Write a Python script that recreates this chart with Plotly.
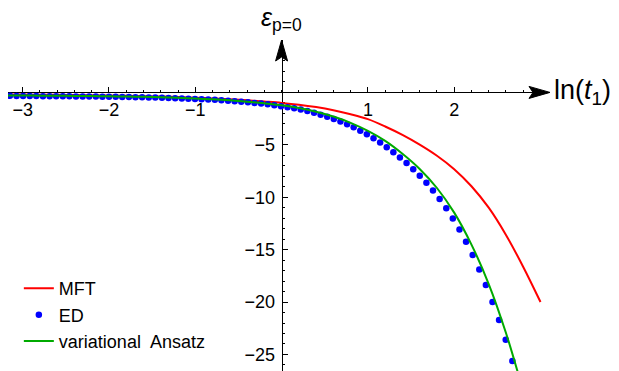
import plotly.graph_objects as go

# ---------------- data ----------------
mft_lnt = [-3.2, -3.0, -2.8, -2.6, -2.4, -2.2, -2.0, -1.8, -1.6, -1.4, -1.2, -1.0,
           -0.8, -0.6, -0.4, -0.2, 0.0, 0.2, 0.4, 0.6, 0.8, 1.0, 1.2, 1.4, 1.6,
           1.8, 2.0, 2.2, 2.4, 2.6, 2.8, 3.0]
mft_eps = [-0.20, -0.21, -0.22, -0.23, -0.25, -0.27, -0.30, -0.33, -0.36, -0.40,
           -0.45, -0.50, -0.57, -0.65, -0.75, -0.87, -1.00, -1.17, -1.40, -1.70,
           -2.08, -2.55, -3.25, -4.05, -4.98, -6.04, -7.32, -8.95, -11.00, -13.60,
           -16.65, -20.00]

ed_lnt = [-3.148, -3.071, -2.995, -2.918, -2.842, -2.765, -2.688, -2.612, -2.535,
          -2.459, -2.382, -2.305, -2.229, -2.152, -2.076, -1.999, -1.922, -1.846,
          -1.769, -1.693, -1.616, -1.539, -1.463, -1.386, -1.310, -1.233, -1.156,
          -1.080, -1.003, -0.927, -0.850, -0.773, -0.697, -0.620, -0.544, -0.467,
          -0.390, -0.314, -0.237, -0.161, -0.084, -0.007, 0.069, 0.146, 0.222,
          0.299, 0.376, 0.452, 0.529, 0.605, 0.682, 0.759, 0.835, 0.912, 0.988,
          1.065, 1.142, 1.218, 1.295, 1.371, 1.448, 1.525, 1.601, 1.678, 1.754,
          1.831, 1.908, 1.984, 2.061, 2.137, 2.214, 2.291, 2.367, 2.444, 2.520,
          2.597, 2.674]
ed_eps = [-0.330, -0.335, -0.340, -0.345, -0.350, -0.355, -0.360, -0.365, -0.370,
          -0.375, -0.380, -0.385, -0.390, -0.400, -0.405, -0.415, -0.425, -0.435,
          -0.445, -0.455, -0.465, -0.480, -0.495, -0.510, -0.530, -0.550, -0.570,
          -0.595, -0.620, -0.650, -0.680, -0.710, -0.750, -0.790, -0.840, -0.900,
          -0.950, -1.010, -1.070, -1.140, -1.220, -1.310, -1.410, -1.520, -1.640,
          -1.780, -1.940, -2.120, -2.320, -2.540, -2.780, -3.040, -3.330, -3.650,
          -4.000, -4.380, -4.790, -5.230, -5.700, -6.200, -6.740, -7.320, -7.950,
          -8.630, -9.370, -10.170, -11.050, -12.020, -13.080, -14.240, -15.510,
          -16.890, -18.380, -19.990, -21.720, -23.600, -25.620]

var_lnt = [-3.2, -3.0, -2.8, -2.6, -2.4, -2.2, -2.0, -1.8, -1.6, -1.4, -1.2, -1.0,
           -0.8, -0.6, -0.4, -0.2, 0.0, 0.2, 0.4, 0.6, 0.8, 1.0, 1.2, 1.4, 1.6,
           1.8, 2.0, 2.2, 2.4, 2.6, 2.74]
var_eps = [-0.29, -0.30, -0.31, -0.32, -0.34, -0.35, -0.37, -0.40, -0.42, -0.47,
           -0.52, -0.58, -0.65, -0.75, -0.88, -1.04, -1.23, -1.49, -1.84, -2.30,
           -2.90, -3.67, -4.62, -5.85, -7.30, -9.12, -11.47, -14.52, -18.28,
           -22.95, -26.80]

x_ticks = [-3, -2, -1, 1, 2]
y_ticks = [-25, -20, -15, -10, -5]

# ---------------- layout constants ----------------
X_RANGE = [-3.17, 3.11]
Y_RANGE = [-26.58, 5.0]
FONT = "Arial, Liberation Sans, sans-serif"

fig = go.Figure()
fig.add_trace(go.Scatter(x=mft_lnt, y=mft_eps, mode="lines", name="MFT",
                         line=dict(color="rgb(255,0,0)", width=2, shape="spline")))
fig.add_trace(go.Scatter(x=ed_lnt, y=ed_eps, mode="markers", name="ED",
                         marker=dict(color="rgb(0,0,255)", size=6.5)))
fig.add_trace(go.Scatter(x=var_lnt, y=var_eps, mode="lines", name="variational  Ansatz",
                         line=dict(color="rgb(0,170,0)", width=2, shape="spline")))

xpos = (0 - Y_RANGE[0]) / (Y_RANGE[1] - Y_RANGE[0])
ypos = (0 - X_RANGE[0]) / (X_RANGE[1] - X_RANGE[0])

fig.update_layout(
    width=619, height=371,
    margin=dict(l=8, r=69, t=40, b=0, pad=0),
    paper_bgcolor="white", plot_bgcolor="white",
    font=dict(family=FONT, size=18, color="black"),
    showlegend=True,
    legend=dict(x=0.02, y=0.305, xanchor="left", yanchor="top",
                bgcolor="rgba(0,0,0,0)", font=dict(size=18, family=FONT),
                itemwidth=30, tracegroupgap=0),
    xaxis=dict(range=X_RANGE, anchor="free", position=xpos, showgrid=False,
               zeroline=False, showline=True, linecolor="black", linewidth=1,
               ticks="inside", ticklen=5, tickcolor="black", tickwidth=1,
               tickmode="array", tickvals=x_ticks, layer="below traces",
               ticklabelstandoff=1,
               minor=dict(tickmode="linear", tick0=0, dtick=0.2, ticks="inside",
                          ticklen=2.5, tickcolor="black", showgrid=False),
               automargin=False, tickfont=dict(size=18)),
    yaxis=dict(range=Y_RANGE, anchor="free", position=ypos, showgrid=False,
               zeroline=False, showline=True, linecolor="black", linewidth=1,
               ticks="inside", ticklen=5, tickcolor="black", tickwidth=1,
               tickmode="array", tickvals=y_ticks, layer="below traces",
               ticklabelstandoff=3,
               minor=dict(tickmode="linear", tick0=0, dtick=1, ticks="inside",
                          ticklen=2.5, tickcolor="black", showgrid=False),
               automargin=False, tickfont=dict(size=18)),
)

# arrowheads at the ends of the axes
fig.add_shape(type="path", xref="x", yref="y", xsizemode="pixel", ysizemode="pixel",
              xanchor=X_RANGE[1], yanchor=0,
              path="M 0 0 L -21 6 L -17 0 L -21 -6 Z",
              fillcolor="black", line=dict(color="black", width=1))
fig.add_shape(type="path", xref="x", yref="y", xsizemode="pixel", ysizemode="pixel",
              xanchor=0, yanchor=Y_RANGE[1],
              path="M 0 0 L -6 -21 L 0 -17 L 6 -21 Z",
              fillcolor="black", line=dict(color="black", width=1))

# axis labels
fig.add_annotation(x=X_RANGE[1], y=0, xref="x", yref="y", xanchor="left",
                   yanchor="middle", xshift=2, showarrow=False,
                   text="ln(<i>t</i><sub>1</sub>)", font=dict(size=27, family=FONT))
fig.add_annotation(x=0, y=Y_RANGE[1], xref="x", yref="y", xanchor="center",
                   yanchor="bottom", yshift=3, showarrow=False,
                   text="<i>ε</i><sub>p=0</sub>", font=dict(size=25, family=FONT))

# remove the default page margin so the figure fills the window exactly
fig.write_html("out.html",
               config={"displayModeBar": False},
               post_script="document.body.style.margin='0';"
                           "document.body.style.overflow='hidden';")
